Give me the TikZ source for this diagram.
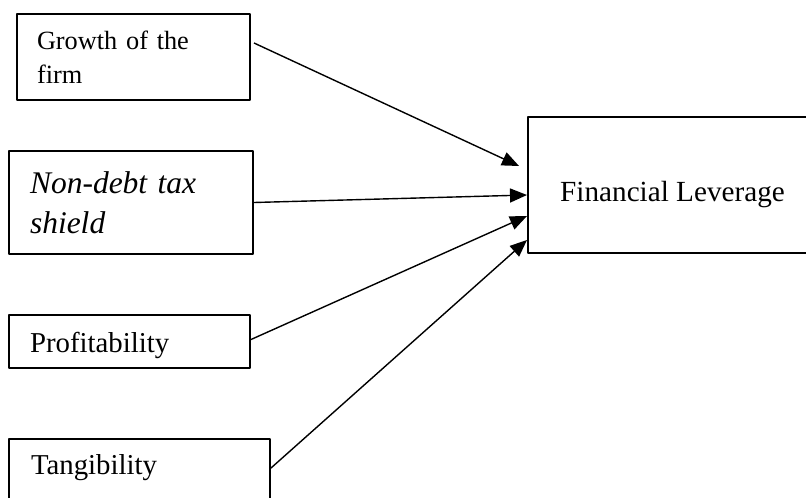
\documentclass[tikz,border=0pt]{standalone}
\usepackage{fontspec}
\setmainfont{Liberation Serif}
\usetikzlibrary{arrows.meta}
\tikzset{
  every picture/.style={line join=round, >=Stealth},
  varbox/.style={draw, rectangle, line width=1pt, anchor=north west, align=left,
    inner ysep=0pt, font=\fontsize{14.4}{17.2}\selectfont},
  levbox/.style={draw, rectangle, line width=1pt, anchor=north west, align=center,
    inner sep=0pt, font=\fontsize{14.6}{17.2}\selectfont},
  link/.style={-{Triangle[length=8.5pt,width=7pt]}, line width=0.7pt},
}
\begin{document}
\begin{tikzpicture}[x=0.5pt,y=-0.5pt]
\clip (0,0) rectangle (806,497);
% determinants
\node[varbox, inner xsep=10pt, text width=96.5pt, minimum width=116.5pt, minimum height=43pt,
  font=\fontsize{13.15}{17.2}\selectfont] (growth) at (16,13) {Growth of the\\firm};
\node[varbox, inner xsep=10.5pt, text width=101pt, minimum width=122pt, minimum height=51.5pt,
  font=\fontsize{15.75}{20}\selectfont\itshape] (shield) at (8,150) {Non-debt tax\\shield};
\node[varbox, inner xsep=10.5pt, text width=99.5pt, minimum width=120.5pt, minimum height=26.5pt,
  text height=11.5pt, text depth=0.3pt] (profit) at (8,314) {Profitability};
\node[varbox, inner xsep=11pt, text width=108.5pt, minimum width=130.5pt, minimum height=35pt,
  text height=6pt, text depth=6pt] (tang) at (8,438) {Tangibility};
% outcome
\node[levbox, minimum width=144.5pt, minimum height=68pt, text height=17pt, text depth=0.3pt] (lev) at (527,116) {Financial Leverage};
% links
\draw[link] ([xshift=1.5pt,yshift=7pt]growth.east) -- ([xshift=-4pt,yshift=9.5pt]lev.west);
\draw[link] (shield.east) -- ([yshift=-5pt]lev.west);
\draw[link] ([yshift=1pt]profit.east) -- ([yshift=-15.5pt]lev.west);
\draw[link] ([yshift=3pt]tang.east) -- ([yshift=-27.5pt]lev.west);
\end{tikzpicture}
\end{document}
